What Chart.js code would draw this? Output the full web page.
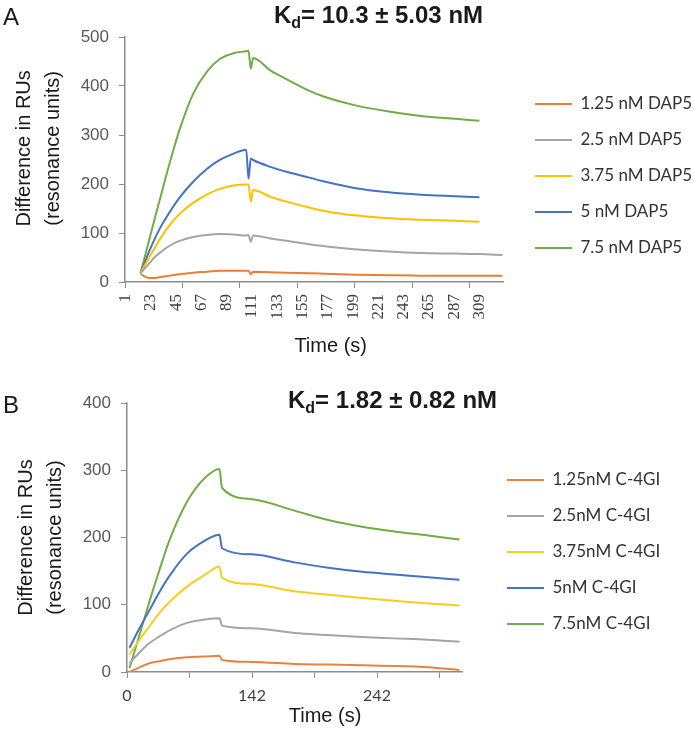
<!DOCTYPE html>
<html>
<head>
<meta charset="utf-8">
<script src="https://cdn.jsdelivr.net/npm/chart.js@4.4.1/dist/chart.umd.min.js"></script>
<style>
  html, body { margin: 0; padding: 0; background: #fff; }
  .panel { position: absolute; left: 0; width: 693px; height: 370px; }
  #panelA { top: 0; }
  #panelB { top: 370px; }
</style>
</head>
<body>
<div class="panel" id="panelA"><canvas id="chartA"></canvas></div>
<div class="panel" id="panelB"><canvas id="chartB"></canvas></div>
<script>
// Panel A : DAP5, tiempo en segundos (eje de categorias 1..329)
const timesA = [14, 22, 26, 31, 40, 48, 60, 72, 83, 95, 106, 108, 110, 112, 127, 141, 161, 174, 200, 230, 258, 288, 309, 329];
const dap5_125 = [16, 8, 8, 10, 13, 16, 19, 21, 23, 23, 23, 23, 16, 21, 20, 19, 18, 17, 15, 14, 13, 13, 13, 13];
const dap5_25  = [18, 39, 50, 60, 75, 84, 92, 96, 98, 97, 95, 96, 82, 95, 89, 84, 77, 73, 67, 62, 59, 58, 57, 55];
const dap5_375 = [18, 52, 68, 88, 118, 139, 162, 179, 190, 197, 199, 199, 164, 188, 174, 164, 152, 145, 136, 130, 127, 125, 123, null];
const dap5_5   = [18, 65, 86, 110, 145, 172, 205, 231, 249, 262, 270, 211, 252, 249, 235, 225, 213, 205, 192, 183, 178, 175, 173, null];
const dap5_75  = [18, 90, 126, 170, 248, 311, 385, 430, 455, 467, 471, 472, 435, 457, 432, 414, 390, 378, 361, 348, 339, 333, 329, null];
const labelsA = ['1.25 nM DAP5', '2.5 nM DAP5', '3.75 nM DAP5', '5 nM DAP5', '7.5 nM DAP5'];
const aTickLabels = [1, 23, 45, 67, 89, 111, 133, 155, 177, 199, 221, 243, 265, 287, 309];
const aTickMarks = [0.5, 50.5, 100.5, 150.5, 200.5, 250.5, 300.5];

// Panel B : C-4GI, indice de muestra (las etiquetas de tiempo no son lineales)
const idxB = [2, 10, 18, 26, 34, 48, 62, 74, 76, 100, 134, 161, 188, 214, 241, 266];
const c4gi_125 = [0, 7, 13, 16, 19, 22, 23, 24, 18, 15, 12, 11, 10, 9, 7, 3];
const c4gi_25  = [13, 29, 43, 53, 62, 73, 78, 80, 69, 65, 58, 55, 52, 50, 48, 45];
const c4gi_375 = [26, 48, 68, 88, 104, 127, 144, 157, 140, 131, 120, 115, 110, 106, 102, 99];
const c4gi_5   = [36, 65, 92, 119, 143, 176, 195, 204, 184, 175, 163, 155, 149, 145, 141, 137];
const c4gi_75  = [6, 55, 105, 152, 196, 253, 288, 302, 274, 257, 240, 226, 216, 209, 203, 197];
const labelsB = ['1.25nM C-4GI', '2.5nM C-4GI', '3.75nM C-4GI', '5nM C-4GI', '7.5nM C-4GI'];
const bTickMarks = [0, 50, 100, 150, 200, 250];
const bTickIdx = [0, 100, 200];
const bTickText = ['0', '142', '242'];

const colorsA = ['#ED7D31', '#A5A5A5', '#FFC000', '#4472C4', '#70AD47'];
const colorsB = ['#E8843E', '#A5A5A5', '#F5CE1E', '#4472C4', '#70AD47'];

const AXIS = '#8c8c8c';
const SANS = '"Liberation Sans", Arial, sans-serif';

function pts(xs, ys) {
  return xs.map((x, i) => ({ x: x, y: ys[i] }));
}

function makeSets(xs, series, labels, colors) {
  return series.map((ys, i) => ({
    label: labels[i],
    data: pts(xs, ys),
    borderColor: colors[i],
    backgroundColor: colors[i],
    borderWidth: 2,
    pointRadius: 0,
    cubicInterpolationMode: 'monotone',
    spanGaps: false
  }));
}

// Letra del panel y titulo Kd con subindice
const panelText = {
  id: 'panelText',
  afterDraw(chart, args, opts) {
    const ctx = chart.ctx;
    ctx.save();
    ctx.fillStyle = '#1a1a1a';
    ctx.textBaseline = 'alphabetic';
    ctx.textAlign = 'left';
    ctx.font = '24px ' + SANS;
    ctx.fillText(opts.letter, 3, opts.letterY);
    let x = opts.titleX;
    ctx.font = 'bold 24px ' + SANS;
    ctx.fillText('K', x, opts.titleY);
    x += ctx.measureText('K').width;
    ctx.font = 'bold 16px ' + SANS;
    ctx.fillText('d', x, opts.titleY + 5);
    x += ctx.measureText('d').width;
    ctx.font = 'bold 24px ' + SANS;
    ctx.fillText(opts.kd, x, opts.titleY);
    ctx.restore();
  }
};

// Coloca la leyenda donde esta en la figura (y evita que se recorte)
const legendPlace = {
  id: 'legendPlace',
  afterLayout(chart, args, opts) {
    const lg = chart.legend;
    const pad = lg.options.labels.padding;
    const dx = opts.x - (lg.left + pad);
    const dy = opts.y - (lg.top + pad);
    lg.left += dx;
    lg.top += dy; lg.bottom += dy;
    lg.right = chart.width;
    lg.width = lg.right - lg.left;
  }
};

function yAxis(max, title) {
  return {
    min: 0, max: max,
    ticks: { stepSize: 100, padding: 10, font: { family: SANS, size: 17 }, color: '#595959' },
    grid: { drawOnChartArea: false, tickLength: 6, tickColor: AXIS },
    border: { color: AXIS, width: 1.5 },
    title: {
      display: true,
      text: title,
      font: { family: SANS, size: 20, lineHeight: 1.45 },
      color: '#1a1a1a',
      padding: { top: 0, bottom: 8 }
    },
    afterFit: s => { s.width = 115; }
  };
}

function legendOpts(size) {
  return {
    position: 'right',
    align: 'start',
    maxWidth: 100,
    labels: {
      boxWidth: 37, boxHeight: 0, padding: 36 - size,
      font: { family: 'Lato', size: size }, color: '#333333'
    }
  };
}

const aTickValues = aTickLabels.concat(aTickMarks).sort((a, b) => a - b);

new Chart(document.getElementById('chartA'), {
  type: 'line',
  data: { datasets: makeSets(timesA, [dap5_125, dap5_25, dap5_375, dap5_5, dap5_75], labelsA, colorsA) },
  options: {
    responsive: true, maintainAspectRatio: false, animation: false, devicePixelRatio: 1,
    layout: { padding: { left: 10, right: 90, top: 37, bottom: 8 } },
    scales: {
      x: {
        type: 'linear', min: 0.5, max: 329.5,
        afterBuildTicks: s => { s.ticks = aTickValues.map(v => ({ value: v })); },
        ticks: {
          autoSkip: false, minRotation: 90, maxRotation: 90, padding: 6,
          font: { family: '"Liberation Serif", serif', size: 17 }, color: '#404040',
          callback: v => aTickLabels.includes(v) ? String(v) : ''
        },
        grid: {
          drawOnChartArea: false, tickLength: 6,
          tickColor: c => aTickMarks.includes(c.tick.value) ? AXIS : 'rgba(0,0,0,0)'
        },
        border: { color: AXIS, width: 1.5 },
        title: { display: true, text: '      Time (s)', font: { family: SANS, size: 20 }, color: '#1a1a1a', padding: { top: 0, bottom: 4 } },
        afterFit: s => { s.height = 80; }
      },
      y: yAxis(500, ['    Difference in RUs', '    (resonance units)'])
    },
    plugins: {
      legend: legendOpts(17),
      tooltip: { enabled: false },
      panelText: { letter: 'A', letterY: 25, titleX: 274, titleY: 23, kd: '= 10.3 \u00b1 5.03 nM' },
      legendPlace: { x: 535, y: 104 - 8.5 }
    }
  },
  plugins: [panelText, legendPlace]
});

new Chart(document.getElementById('chartB'), {
  type: 'line',
  data: { datasets: makeSets(idxB, [c4gi_125, c4gi_25, c4gi_375, c4gi_5, c4gi_75], labelsB, colorsB) },
  options: {
    responsive: true, maintainAspectRatio: false, animation: false, devicePixelRatio: 1,
    layout: { padding: { left: 12, right: 131, top: 33, bottom: 8 } },
    scales: {
      x: {
        type: 'linear', min: 0, max: 268,
        afterBuildTicks: s => { s.ticks = bTickMarks.map(v => ({ value: v })); },
        ticks: {
          autoSkip: false, minRotation: 0, maxRotation: 0, padding: 8,
          font: { family: 'Lato', size: 16 }, color: '#404040',
          callback: v => { const k = bTickIdx.indexOf(v); return k >= 0 ? bTickText[k] : ''; }
        },
        grid: { drawOnChartArea: false, tickLength: 6, tickColor: AXIS },
        border: { color: AXIS, width: 1.5 },
        title: { display: true, text: '           Time (s)', font: { family: SANS, size: 20 }, color: '#1a1a1a', padding: { top: 0, bottom: 4 } },
        afterFit: s => { s.height = 60; }
      },
      y: yAxis(400, ['Difference in RUs', '(resonance units)'])
    },
    plugins: {
      legend: legendOpts(17),
      tooltip: { enabled: false },
      panelText: { letter: 'B', letterY: 43, titleX: 288, titleY: 38, kd: '= 1.82 \u00b1 0.82 nM' },
      legendPlace: { x: 507, y: 110 - 8.5 }
    }
  },
  plugins: [panelText, legendPlace]
});
</script>
</body>
</html>
